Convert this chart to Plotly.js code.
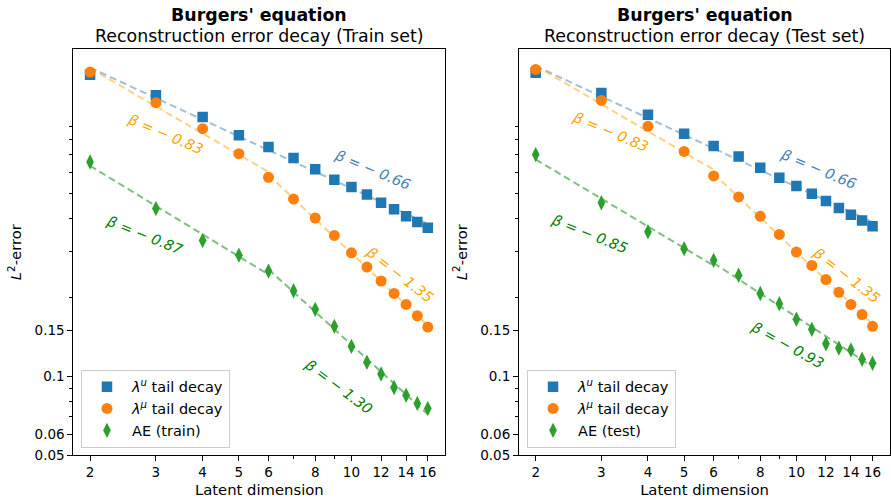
<!DOCTYPE html>
<html>
<head>
<meta charset="utf-8">
<script src="https://cdn.plot.ly/plotly-3.0.1.min.js"></script>
<style>html,body{margin:0;padding:0;background:#fff}#chart{width:891px;height:500px}</style>
</head>
<body>
<div id="chart"></div>
<script>
// ---- data ----
const dims = [2, 3, 4, 5, 6, 7, 8, 9, 10, 11, 12, 13, 14, 15, 16];

const trainLamU  = [1.418, 1.182, 0.977, 0.832, 0.750, 0.681, 0.617, 0.563, 0.528, 0.494, 0.460, 0.434, 0.408, 0.388, 0.369];
const trainLamMu = [1.451, 1.108, 0.882, 0.708, 0.575, 0.475, 0.402, 0.345, 0.296, 0.261, 0.231, 0.207, 0.188, 0.170, 0.154];
const trainAE    = [0.658, 0.437, 0.330, 0.290, 0.252, 0.212, 0.180, 0.155, 0.130, 0.113, 0.102, 0.0905, 0.0846, 0.0787, 0.0753];

const testLamU   = [1.443, 1.206, 0.997, 0.844, 0.757, 0.690, 0.626, 0.573, 0.533, 0.498, 0.467, 0.439, 0.414, 0.393, 0.374];
const testLamMu  = [1.485, 1.131, 0.900, 0.722, 0.582, 0.484, 0.408, 0.348, 0.298, 0.265, 0.234, 0.209, 0.188, 0.172, 0.155];
const testAE     = [0.702, 0.460, 0.356, 0.307, 0.277, 0.243, 0.207, 0.189, 0.165, 0.151, 0.133, 0.128, 0.126, 0.116, 0.112];

// fitted decay rates and their dimension ranges
const betaLamU       = [-0.66];  const rangeLamU  = [[2, 16]];
const betaLamMu      = [-0.83, -1.35]; const rangeSplit = [[2, 6], [6, 16]];
const betaTrainAE    = [-0.87, -1.30];
const betaTestAE     = [-0.85, -0.93];

const xTickVals = [2, 3, 4, 5, 6, 8, 10, 12, 14, 16];
const xMinorVals = [7, 9];
const yTickVals = [0.05, 0.06, 0.1, 0.15];
const yTickText = ['0.05', '0.06', '0.1', '0.15'];
const yMinorVals = [0.07, 0.08, 0.09, 0.2, 0.3, 0.4, 0.5, 0.6, 0.7, 0.8, 0.9];

// ---- styling ----
const FONT = 'DejaVu Sans';
const C_BLUE = '#1f77b4', C_ORANGE = '#ff7f0e', C_GREEN = '#2ca02c';
const T_BLUE = '#4682b4', T_ORANGE = '#ffa500', T_GREEN = '#008000';
const L_BLUE = 'rgba(70,130,180,0.5)', L_ORANGE = 'rgba(255,165,0,0.5)', L_GREEN = 'rgba(0,128,0,0.5)';

function fitSeg(xs, ys, beta, lo, hi) {
  let s = 0, n = 0;
  xs.forEach((x, i) => { if (x >= lo && x <= hi) { s += Math.log(ys[i]) - beta * Math.log(x); n++; } });
  const c = Math.exp(s / n);
  return { x: [lo, hi], y: [c * Math.pow(lo, beta), c * Math.pow(hi, beta)] };
}

function lineTraces(ys, betas, ranges, color, xa, ya) {
  return betas.map((b, k) => {
    const f = fitSeg(dims, ys, b, ranges[k][0], ranges[k][1]);
    return { x: f.x, y: f.y, type: 'scatter', mode: 'lines', xaxis: xa, yaxis: ya,
      line: { color: color, width: 2, dash: '7px,4px' }, showlegend: false, hoverinfo: 'skip' };
  });
}

function markerTrace(ys, name, color, symbol, size, xa, ya, leg) {
  return { x: dims, y: ys, type: 'scatter', mode: 'markers', name: name, xaxis: xa, yaxis: ya,
    legend: leg, marker: { color: color, symbol: symbol, size: size, line: { width: 0 } } };
}

const data = [
  ...lineTraces(trainLamU, betaLamU, rangeLamU, L_BLUE, 'x', 'y'),
  ...lineTraces(trainLamMu, betaLamMu, rangeSplit, L_ORANGE, 'x', 'y'),
  ...lineTraces(trainAE, betaTrainAE, rangeSplit, L_GREEN, 'x', 'y'),
  markerTrace(trainLamU, '<i>λ</i><sup><i>u</i></sup> tail decay', C_BLUE, 'square', 10.5, 'x', 'y', 'legend'),
  markerTrace(trainLamMu, '<i>λ</i><sup><i>μ</i></sup> tail decay', C_ORANGE, 'circle', 11, 'x', 'y', 'legend'),
  markerTrace(trainAE, 'AE (train)', C_GREEN, 'diamond-tall', 11, 'x', 'y', 'legend'),

  ...lineTraces(testLamU, betaLamU, rangeLamU, L_BLUE, 'x2', 'y2'),
  ...lineTraces(testLamMu, betaLamMu, rangeSplit, L_ORANGE, 'x2', 'y2'),
  ...lineTraces(testAE, betaTestAE, rangeSplit, L_GREEN, 'x2', 'y2'),
  markerTrace(testLamU, '<i>λ</i><sup><i>u</i></sup> tail decay', C_BLUE, 'square', 10.5, 'x2', 'y2', 'legend2'),
  markerTrace(testLamMu, '<i>λ</i><sup><i>μ</i></sup> tail decay', C_ORANGE, 'circle', 11, 'x2', 'y2', 'legend2'),
  markerTrace(testAE, 'AE (test)', C_GREEN, 'diamond-tall', 11, 'x2', 'y2', 'legend2'),
];

function xAxis(domain, anchor) {
  return { type: 'log', domain: domain, anchor: anchor, range: [0.2563, 1.251],
    tickmode: 'array', tickvals: xTickVals, ticktext: xTickVals.map(String),
    ticks: 'outside', ticklen: 5, tickwidth: 1, tickcolor: '#000',
    minor: { tickmode: 'array', tickvals: xMinorVals, ticks: 'outside', ticklen: 3, tickwidth: 1, tickcolor: '#000', showgrid: false },
    showline: true, linecolor: '#000', linewidth: 1, mirror: true, showgrid: false, zeroline: false,
    tickfont: { family: FONT, size: 13.5, color: '#000' },
    title: { text: 'Latent dimension', font: { family: FONT, size: 14.8, color: '#000' }, standoff: 5 },
    automargin: false };
}
function yAxis(domain, anchor) {
  return { type: 'log', domain: domain, anchor: anchor, range: [-1.30103, 0.2486],
    tickmode: 'array', tickvals: yTickVals, ticktext: yTickText,
    ticks: 'outside', ticklen: 5, tickwidth: 1, tickcolor: '#000',
    minor: { tickmode: 'array', tickvals: yMinorVals, ticks: 'outside', ticklen: 3, tickwidth: 1, tickcolor: '#000', showgrid: false },
    showline: true, linecolor: '#000', linewidth: 1, mirror: true, showgrid: false, zeroline: false,
    tickfont: { family: FONT, size: 13.5, color: '#000' },
    title: { text: '<i>L</i><sup>2</sup>-error', font: { family: FONT, size: 14.8, color: '#000' }, standoff: 9 },
    automargin: false };
}

function betaNote(text, lx, ly, angle, color, xr, yr) {
  return { text: '<i>' + text + '</i>', x: lx, y: ly, xref: xr, yref: yr, showarrow: false, textangle: angle,
    xanchor: 'center', yanchor: 'middle', font: { family: FONT, size: 14.5, color: color } };
}

const annotations = [
  { text: "<b>Burgers' equation</b>", x: 0.291, y: 0.970, xref: 'paper', yref: 'paper', showarrow: false,
    xanchor: 'center', yanchor: 'middle', font: { family: FONT, size: 17.4, color: '#000' } },
  { text: 'Reconstruction error decay (Train set)', x: 0.291, y: 0.927, xref: 'paper', yref: 'paper', showarrow: false,
    xanchor: 'center', yanchor: 'middle', font: { family: FONT, size: 17.4, color: '#000' } },
  { text: "<b>Burgers' equation</b>", x: 0.7909, y: 0.970, xref: 'paper', yref: 'paper', showarrow: false,
    xanchor: 'center', yanchor: 'middle', font: { family: FONT, size: 17.4, color: '#000' } },
  { text: 'Reconstruction error decay (Test set)', x: 0.7909, y: 0.927, xref: 'paper', yref: 'paper', showarrow: false,
    xanchor: 'center', yanchor: 'middle', font: { family: FONT, size: 17.4, color: '#000' } },

  betaNote('β = − 0.66', 1.0576, -0.2132, 23, T_BLUE, 'x', 'y'),
  betaNote('β = − 0.83', 0.5015, -0.0758, 23, T_ORANGE, 'x', 'y'),
  betaNote('β = − 1.35', 1.1298, -0.614, 38, T_ORANGE, 'x', 'y'),
  betaNote('β = − 0.87', 0.4453, -0.4613, 22, T_GREEN, 'x', 'y'),
  betaNote('β = − 1.30', 0.9667, -1.0415, 37, T_GREEN, 'x', 'y'),

  betaNote('β = − 0.66', 1.0584, -0.2094, 23, T_BLUE, 'x2', 'y2'),
  betaNote('β = − 0.83', 0.5023, -0.0682, 23, T_ORANGE, 'x2', 'y2'),
  betaNote('β = − 1.35', 1.1333, -0.614, 38, T_ORANGE, 'x2', 'y2'),
  betaNote('β = − 0.85', 0.4461, -0.4575, 22, T_GREEN, 'x2', 'y2'),
  betaNote('β = − 0.93', 0.9756, -0.8812, 29, T_GREEN, 'x2', 'y2'),
];

function legendBox(x) {
  return { x: x, y: 0.1046, xanchor: 'left', yanchor: 'bottom', bgcolor: 'rgba(255,255,255,0.8)',
    bordercolor: '#cccccc', borderwidth: 1, font: { family: FONT, size: 14.5, color: '#000' },
    itemwidth: 40, tracegroupgap: 0 };
}

const layout = {
  width: 891, height: 500, margin: { l: 0, r: 0, t: 0, b: 0 },
  paper_bgcolor: '#fff', plot_bgcolor: '#fff', showlegend: true,
  font: { family: FONT, size: 13.5, color: '#000' },
  xaxis: xAxis([0.0823, 0.4998], 'y'),
  yaxis: yAxis([0.09, 0.9014], 'x'),
  xaxis2: xAxis([0.5825, 0.9989], 'y2'),
  yaxis2: yAxis([0.09, 0.9014], 'x2'),
  legend: legendBox(0.0909),
  legend2: legendBox(0.5915),
  annotations: annotations,
};

Plotly.newPlot('chart', data, layout, { staticPlot: true, displayModeBar: false });
</script>
</body>
</html>
